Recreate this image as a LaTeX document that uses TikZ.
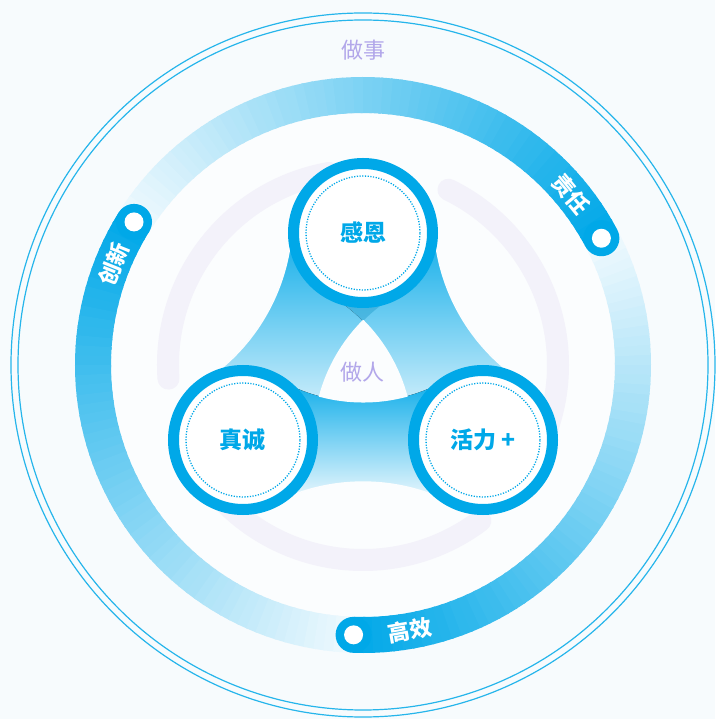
\documentclass[tikz,border=0pt]{standalone}
\usepackage{fontspec}
\usepackage{tikz}
\usetikzlibrary{calc}
\setmainfont{Noto Sans CJK SC}

\definecolor{brand}{HTML}{00A8E8}
\definecolor{pale}{HTML}{F2FAFE}
\definecolor{paper}{HTML}{F7FBFD}
\definecolor{inside}{HTML}{FBFDFE}
\definecolor{lilac}{HTML}{F3F2FA}
\definecolor{violet}{HTML}{B2A7EA}

\begin{document}
\begin{tikzpicture}[
    x=1pt, y=1pt,
    rim/.style={draw=brand!85, line width=1.2pt},
    ringpart/.style={line width=36pt},
    lilacarc/.style={draw=lilac, line width=22pt, line cap=round},
    band/.style={top color=brand!95, bottom color=pale},
    seam/.style={draw=inside, line width=1.6pt},
    value/.style={circle, draw=brand, line width=11pt, fill=white, minimum size=139pt,
        inner sep=0pt, text=brand, font=\bfseries\fontsize{23}{27}\selectfont},
    innerdots/.style={draw=brand, line width=1.3pt, dash pattern=on 1.2pt off 1.5pt},
    ringtag/.style={text=white, font=\bfseries\fontsize{22}{26}\selectfont, inner sep=0pt},
    side/.style={text=violet, font=\fontsize{22}{26}\selectfont, inner sep=0pt}
]

\useasboundingbox (-363,-354) rectangle (352,365);
\fill[paper] (-363,-354) rectangle (352,365);
\fill[inside] (0,0) circle[radius=252];

% double rim
\draw[rim] (0,0) circle[radius=352];
\draw[rim] (0,0) circle[radius=345];

% faint inner ring
\foreach \from/\to in {100/184, -30/64, 215/307}
    \draw[lilacarc] (\from:195) arc[start angle=\from, end angle=\to, radius=195];

% outer ring, three fading arcs
\foreach \start in {28, 148, 268}{
    \foreach \i in {0,...,59}{
        \pgfmathtruncatemacro\mix{100-\i*5/3}
        \draw[ringpart, brand!\mix!pale] (\start+2*\i:270)
            arc[start angle=\start+2*\i, end angle=\start+2*\i+2.5, radius=270];
    }
}
\foreach \start/\word/\turn/\gap/\tag in {28/责任/-50.5/11.5/duty, 148/创新/68/10/novel, 268/高效/10/12/speed}{
    \fill[brand] (\start:270) circle[radius=18];
    \fill[white] (\start:270) circle[radius=9.5];
    \node[ringtag, rotate=\turn] (\tag) at (\start+\gap:269) {\word};
}

\node[side] (work) at (0,315) {做事};

% value centres and the centres of the cut-outs
\coordinate (cganen) at (0,132);
\coordinate (czhen) at (-120,-75);
\coordinate (chuoli) at (120,-75);
\coordinate (farleft) at (-267.9,148);
\coordinate (farright) at (267.9,148);
\coordinate (farlow) at (0,-314.1);
\coordinate (apex) at (0,44);

% bands between the values
\fill[band] ($(farleft)+(-3.4:197)$) arc[start angle=-3.4, end angle=-56.4, radius=197]
    -- ($(chuoli)+(180:169)$) arc[start angle=180, end angle=120.1, radius=169] -- cycle;
\fill[band] ($(farright)+(183.4:197)$) arc[start angle=183.4, end angle=236.4, radius=197]
    -- ($(czhen)+(0:169)$) arc[start angle=0, end angle=59.9, radius=169] -- cycle;
\fill[brand!80!black, fill opacity=0.3] (apex) arc[start angle=135.2, end angle=120.1, radius=169]
    -- ($(czhen)+(59.9:169)$) arc[start angle=59.9, end angle=44.8, radius=169] -- cycle;
\fill[band] ($(farlow)+(116.65:197)$) arc[start angle=116.65, end angle=63.35, radius=197]
    -- ($(cganen)+(-59.9:169)$) arc[start angle=-59.9, end angle=-120.1, radius=169] -- cycle;

% clean edges
\draw[seam] ($(farleft)+(-3.4:197)$) arc[start angle=-3.4, end angle=-56.4, radius=197];
\draw[seam] ($(farright)+(183.4:197)$) arc[start angle=183.4, end angle=236.4, radius=197];
\draw[seam] ($(farlow)+(116.65:197)$) arc[start angle=116.65, end angle=63.35, radius=197];
\filldraw[seam, fill=inside] (apex) arc[start angle=135.2, end angle=164.9, radius=169]
    arc[start angle=255.1, end angle=284.9, radius=169]
    arc[start angle=15.1, end angle=44.8, radius=169] -- cycle;

\node[side] (person) at (-1,-7) {做人};

% values
\node[value] (ganen) at (cganen) {感恩};
\node[value] (zhen) at (czhen) {真诚};
\node[value] (huoli) at (chuoli) {活力 +};
\foreach \n in {ganen, zhen, huoli}
    \draw[innerdots] (\n.center) circle[radius=57];

\end{tikzpicture}
\end{document}
